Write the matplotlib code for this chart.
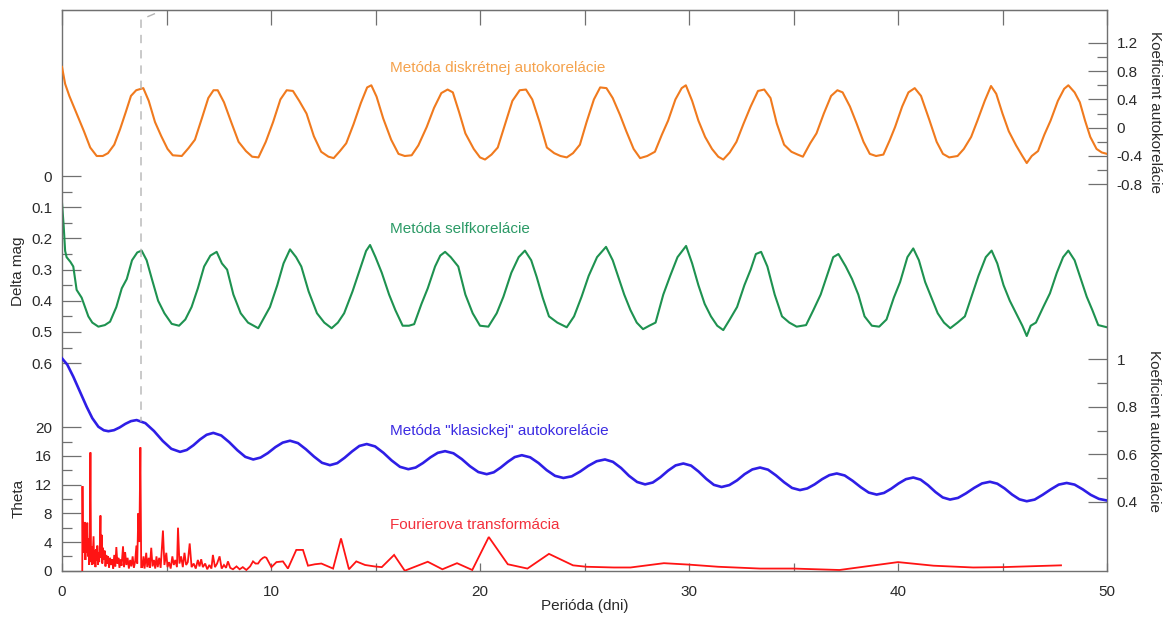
import numpy as np
import matplotlib
matplotlib.use("Agg")
import matplotlib.pyplot as plt
from matplotlib.ticker import FixedLocator, MultipleLocator, FuncFormatter

# ---------------------------------------------------------------- data
# Discrete autocorrelation (right axis, top)
orange_lag = [0.0, 0.15, 0.35, 0.7, 1.05, 1.35, 1.66, 1.95, 2.2, 2.5,
              2.78, 3.05, 3.3, 3.55, 3.89, 4.15, 4.45, 4.75, 5.05, 5.3,
              5.73, 6.05, 6.36, 6.7, 7.0, 7.25, 7.45, 7.75, 8.12, 8.45,
              8.8, 9.1, 9.4, 9.75, 10.1, 10.45, 10.75, 11.05, 11.35, 11.7,
              12.05, 12.4, 12.75, 13.0, 13.3, 13.6, 13.95, 14.3, 14.6, 14.8,
              15.05, 15.37, 15.75, 16.1, 16.4, 16.73, 17.05, 17.45, 17.8, 18.15,
              18.45, 18.7, 19.0, 19.3, 19.7, 20.0, 20.24, 20.55, 20.85, 21.2,
              21.55, 21.9, 22.2, 22.5, 22.85, 23.2, 23.55, 23.85, 24.15, 24.45,
              24.78, 25.1, 25.45, 25.75, 26.05, 26.35, 26.7, 27.0, 27.35, 27.66,
              28.0, 28.37, 28.7, 29.0, 29.35, 29.65, 29.85, 30.15, 30.45, 30.77,
              31.1, 31.4, 31.64, 31.95, 32.27, 32.6, 32.95, 33.3, 33.6, 33.9,
              34.2, 34.55, 34.9, 35.2, 35.45, 35.8, 36.1, 36.45, 36.8, 37.1,
              37.35, 37.7, 38.02, 38.35, 38.65, 38.95, 39.3, 39.6, 39.86, 40.2,
              40.5, 40.8, 41.1, 41.5, 41.85, 42.15, 42.45, 42.85, 43.15, 43.5,
              43.8, 44.15, 44.45, 44.7, 45.0, 45.3, 45.65, 45.95, 46.16, 46.4,
              46.7, 47.0, 47.3, 47.65, 47.95, 48.15, 48.45, 48.7, 48.95, 49.2,
              49.5, 49.75, 50.0]
orange_coef = [0.86, 0.62, 0.45, 0.20, -0.05, -0.28, -0.40, -0.40, -0.36, -0.24,
               -0.02, 0.22, 0.45, 0.53, 0.56, 0.38, 0.08, -0.12, -0.30, -0.39,
               -0.40, -0.29, -0.17, 0.14, 0.42, 0.53, 0.53, 0.36, 0.06, -0.20,
               -0.33, -0.41, -0.42, -0.20, 0.08, 0.40, 0.53, 0.52, 0.38, 0.20,
               -0.12, -0.34, -0.41, -0.43, -0.33, -0.22, 0.05, 0.35, 0.57, 0.60,
               0.44, 0.13, -0.17, -0.37, -0.40, -0.39, -0.25, 0.01, 0.28, 0.49,
               0.54, 0.50, 0.22, -0.08, -0.30, -0.42, -0.45, -0.38, -0.28, 0.05,
               0.38, 0.53, 0.54, 0.40, 0.08, -0.28, -0.36, -0.40, -0.42, -0.36,
               -0.24, 0.08, 0.40, 0.57, 0.56, 0.42, 0.18, -0.05, -0.30, -0.43,
               -0.40, -0.34, -0.10, 0.10, 0.40, 0.56, 0.60, 0.38, 0.10, -0.13,
               -0.30, -0.41, -0.45, -0.35, -0.20, 0.05, 0.30, 0.52, 0.54, 0.42,
               0.06, -0.24, -0.34, -0.38, -0.41, -0.22, -0.08, 0.20, 0.45, 0.53,
               0.50, 0.30, 0.06, -0.20, -0.37, -0.40, -0.38, -0.18, 0.01, 0.30,
               0.50, 0.56, 0.45, 0.11, -0.20, -0.37, -0.42, -0.40, -0.30, -0.13,
               0.10, 0.38, 0.59, 0.48, 0.20, -0.05, -0.25, -0.40, -0.50, -0.40,
               -0.33, -0.10, 0.10, 0.38, 0.55, 0.60, 0.50, 0.36, 0.10, -0.13,
               -0.30, -0.35, -0.37]

# Self-correlation (left axis, Delta mag, inverted)
green_lag = [0.0, 0.08, 0.15, 0.22, 0.4, 0.54, 0.70, 0.94, 1.1, 1.26,
             1.45, 1.74, 2.05, 2.3, 2.6, 2.86, 3.1, 3.35, 3.6, 3.81,
             4.05, 4.3, 4.6, 4.9, 5.25, 5.6, 5.9, 6.2, 6.5, 6.8,
             7.1, 7.4, 7.65, 7.9, 8.2, 8.55, 8.9, 9.39, 9.7, 9.95,
             10.3, 10.6, 10.91, 11.2, 11.45, 11.8, 12.2, 12.55, 12.9, 13.2,
             13.5, 13.9, 14.25, 14.55, 14.74, 15.0, 15.3, 15.65, 15.95, 16.3,
             16.6, 16.85, 17.2, 17.5, 17.85, 18.1, 18.33, 18.6, 18.96, 19.3,
             19.65, 20.0, 20.4, 20.8, 21.12, 21.5, 21.85, 22.15, 22.45, 22.71,
             23.0, 23.3, 23.7, 24.15, 24.5, 24.86, 25.2, 25.6, 26.03, 26.35,
             26.6, 26.9, 27.2, 27.5, 27.8, 28.1, 28.4, 28.77, 29.1, 29.45,
             29.86, 30.15, 30.45, 30.75, 31.05, 31.35, 31.64, 31.95, 32.3, 32.65,
             32.95, 33.2, 33.45, 33.75, 34.1, 34.45, 34.8, 35.15, 35.6, 35.95,
             36.3, 36.65, 36.9, 37.15, 37.5, 37.8, 38.1, 38.4, 38.75, 39.1,
             39.45, 39.8, 40.1, 40.45, 40.73, 41.0, 41.3, 41.6, 41.9, 42.2,
             42.5, 42.85, 43.2, 43.55, 43.85, 44.2, 44.48, 44.75, 45.05, 45.35,
             45.65, 45.95, 46.16, 46.35, 46.6, 46.95, 47.27, 47.6, 47.9, 48.15,
             48.45, 48.75, 49.03, 49.3, 49.58, 50.0]
green_mag = [0.085, 0.16, 0.24, 0.26, 0.275, 0.29, 0.365, 0.39, 0.42, 0.45,
             0.47, 0.483, 0.478, 0.467, 0.42, 0.36, 0.33, 0.27, 0.245, 0.239,
             0.27, 0.33, 0.40, 0.44, 0.474, 0.48, 0.46, 0.42, 0.36, 0.29,
             0.255, 0.243, 0.28, 0.30, 0.38, 0.44, 0.47, 0.488, 0.45, 0.42,
             0.35, 0.28, 0.235, 0.26, 0.29, 0.37, 0.44, 0.47, 0.488, 0.47,
             0.44, 0.37, 0.30, 0.24, 0.221, 0.26, 0.31, 0.38, 0.43, 0.48,
             0.48, 0.475, 0.41, 0.36, 0.29, 0.255, 0.243, 0.26, 0.29, 0.38,
             0.44, 0.48, 0.483, 0.44, 0.387, 0.31, 0.26, 0.239, 0.27, 0.323,
             0.39, 0.45, 0.47, 0.485, 0.45, 0.387, 0.32, 0.26, 0.227, 0.27,
             0.32, 0.38, 0.43, 0.47, 0.491, 0.48, 0.47, 0.38, 0.32, 0.26,
             0.224, 0.28, 0.35, 0.41, 0.45, 0.48, 0.494, 0.46, 0.42, 0.35,
             0.30, 0.25, 0.243, 0.29, 0.38, 0.45, 0.47, 0.483, 0.478, 0.43,
             0.38, 0.31, 0.26, 0.25, 0.29, 0.33, 0.38, 0.45, 0.48, 0.483,
             0.46, 0.39, 0.34, 0.26, 0.232, 0.27, 0.34, 0.39, 0.44, 0.47,
             0.488, 0.47, 0.45, 0.38, 0.32, 0.26, 0.239, 0.28, 0.35, 0.40,
             0.44, 0.48, 0.513, 0.48, 0.47, 0.42, 0.376, 0.31, 0.26, 0.239,
             0.27, 0.33, 0.387, 0.43, 0.478, 0.485]

# "Classic" autocorrelation (right axis, bottom)
blue_lag = [0.0, 0.25, 0.54, 0.85, 1.18, 1.45, 1.74, 2.0, 2.22,
            2.49, 2.76, 3.03, 3.30, 3.57,
            3.99, 4.40, 4.82, 5.23, 5.65,
            5.97, 6.29, 6.60, 6.92, 7.24,
            7.62, 8.00, 8.39, 8.77, 9.15,
            9.50, 9.85, 10.21, 10.56, 10.91,
            11.29, 11.67, 12.06, 12.44, 12.82,
            13.17, 13.52, 13.88, 14.23, 14.58,
            14.98, 15.38, 15.77, 16.17, 16.57,
            16.92, 17.27, 17.63, 17.98, 18.33,
            18.73, 19.13, 19.52, 19.92, 20.32,
            20.66, 20.99, 21.33, 21.66, 22.0,
            22.40, 22.80, 23.19, 23.59, 23.99,
            24.39, 24.79, 25.18, 25.58, 25.98,
            26.36, 26.75, 27.13, 27.52, 27.9,
            28.27, 28.63, 29.00, 29.36, 29.73,
            30.10, 30.46, 30.83, 31.19, 31.56,
            31.93, 32.30, 32.66, 33.03, 33.4,
            33.78, 34.16, 34.55, 34.93, 35.31,
            35.66, 36.01, 36.37, 36.72, 37.07,
            37.45, 37.83, 38.22, 38.60, 38.98,
            39.33, 39.68, 40.03, 40.38, 40.73,
            41.08, 41.43, 41.79, 42.14, 42.49,
            42.87, 43.25, 43.64, 44.02, 44.4,
            44.75, 45.10, 45.46, 45.81, 46.16,
            46.54, 46.92, 47.31, 47.69, 48.07,
            48.45, 48.84, 49.22, 49.61, 50.0]
blue_coef = [1.004, 0.978, 0.927, 0.865, 0.80, 0.752, 0.716, 0.701, 0.697,
             0.7015, 0.713, 0.728, 0.7395, 0.744,
             0.731, 0.698, 0.656, 0.623, 0.61,
             0.618, 0.638, 0.662, 0.682, 0.69,
             0.679, 0.651, 0.617, 0.589, 0.578,
             0.586, 0.605, 0.630, 0.649, 0.657,
             0.647, 0.621, 0.590, 0.564, 0.554,
             0.5625, 0.585, 0.612, 0.635, 0.643,
             0.633, 0.606, 0.574, 0.547, 0.537,
             0.544, 0.563, 0.587, 0.606, 0.613,
             0.604, 0.5795, 0.5495, 0.525, 0.516,
             0.524, 0.544, 0.568, 0.588, 0.596,
             0.587, 0.563, 0.533, 0.509, 0.50,
             0.507, 0.527, 0.551, 0.5705, 0.578,
             0.568, 0.542, 0.509, 0.483, 0.473,
             0.481, 0.503, 0.531, 0.553, 0.561,
             0.552, 0.527, 0.496, 0.471, 0.462,
             0.470, 0.490, 0.516, 0.536, 0.544,
             0.535, 0.511, 0.482, 0.458, 0.449,
             0.456, 0.473, 0.495, 0.512, 0.519,
             0.5105, 0.488, 0.461, 0.4385, 0.43,
             0.437, 0.455, 0.477, 0.495, 0.502,
             0.493, 0.470, 0.441, 0.418, 0.409,
             0.416, 0.435, 0.458, 0.477, 0.484,
             0.476, 0.456, 0.430, 0.410, 0.402,
             0.409, 0.429, 0.452, 0.472, 0.479,
             0.472, 0.452, 0.429, 0.412, 0.405]

# Fourier transform (left axis, Theta)
fourier_period = [0.97, 0.98, 1.00, 1.03, 1.06, 1.09, 1.12, 1.15, 1.18, 1.21,
                  1.24, 1.27, 1.30, 1.33, 1.36, 1.39, 1.42, 1.45, 1.48, 1.51,
                  1.54, 1.57, 1.60, 1.63, 1.66, 1.69, 1.72, 1.75, 1.78, 1.81,
                  1.84, 1.87, 1.90, 1.93, 1.96, 2.00, 2.04, 2.08, 2.12, 2.16,
                  2.20, 2.25, 2.30, 2.35, 2.40, 2.45, 2.50, 2.55, 2.60, 2.65,
                  2.70, 2.75, 2.80, 2.85, 2.92, 2.97, 3.02, 3.08, 3.14, 3.20,
                  3.26, 3.32, 3.38, 3.44, 3.50, 3.56, 3.60, 3.65, 3.70, 3.75,
                  3.79, 3.84, 3.90, 3.95, 4.03, 4.08, 4.15, 4.20, 4.27, 4.33,
                  4.40, 4.46, 4.52, 4.58, 4.65, 4.72, 4.83, 4.90, 4.99, 5.05,
                  5.12, 5.20, 5.28, 5.35, 5.42, 5.50, 5.55, 5.62, 5.70, 5.78,
                  5.86, 5.94, 6.02, 6.11, 6.20, 6.30, 6.40, 6.50, 6.58, 6.66,
                  6.74, 6.85, 6.95, 7.05, 7.15, 7.22, 7.32, 7.42, 7.54, 7.64,
                  7.75, 7.85, 7.94, 8.05, 8.18, 8.35, 8.50, 8.65, 8.82, 9.00,
                  9.14, 9.26, 9.38, 9.50, 9.62, 9.70, 9.78, 10.02, 10.26, 10.57,
                  10.81, 11.21, 11.53, 11.77, 12.10, 12.41, 12.97, 13.35, 13.73, 14.08,
                  14.50, 14.95, 15.30, 15.89, 16.40, 17.50, 18.20, 18.90, 19.63, 20.42,
                  21.33, 22.27, 23.30, 24.45, 25.10, 26.40, 27.20, 28.80, 30.00, 31.40,
                  33.40, 35.00, 37.20, 40.00, 41.70, 43.60, 45.00, 47.80]
fourier_theta = [0.0, 11.8, 3.5, 6.2, 2.5, 6.8, 1.5, 5.5, 2.5, 6.7,
                 2.0, 4.5, 0.8, 3.6, 16.5, 1.2, 3.4, 0.8, 2.8, 4.8,
                 1.0, 2.8, 0.5, 3.0, 1.4, 3.5, 0.8, 2.6, 1.2, 3.5,
                 7.7, 1.8, 5.0, 1.0, 3.2, 1.5, 2.8, 0.6, 2.2, 1.0,
                 2.0, 0.4, 1.8, 0.8, 1.6, 0.3, 2.2, 0.6, 3.3, 1.0,
                 1.8, 0.4, 1.6, 0.7, 3.4, 0.5, 2.6, 0.8, 1.8, 0.3,
                 1.5, 0.6, 2.0, 0.4, 1.3, 3.5, 1.0, 8.0, 4.0, 17.2,
                 0.5, 0.5, 2.0, 0.3, 2.5, 0.5, 1.8, 0.4, 3.2, 0.6,
                 1.5, 0.3, 2.0, 0.5, 1.8, 0.4, 5.6, 0.8, 2.5, 0.5,
                 1.2, 0.3, 2.0, 0.8, 1.5, 0.5, 6.0, 1.0, 2.0, 0.5,
                 2.5, 0.8, 1.2, 3.8, 0.5, 1.0, 0.3, 1.5, 0.6, 1.6,
                 0.5, 1.0, 0.2, 0.8, 0.3, 2.2, 0.5, 1.0, 2.0, 0.3,
                 0.8, 0.4, 1.3, 0.4, 0.2, 0.6, 0.2, 0.5, 0.1, 0.6,
                 1.3, 1.0, 1.0, 1.5, 1.8, 1.9, 1.8, 0.5, 1.2, 1.3,
                 0.3, 2.9, 2.9, 0.7, 0.9, 1.0, 0.3, 4.5, 0.2, 1.3,
                 0.8, 0.6, 0.5, 2.2, 0.0, 1.25, 0.2, 1.05, 0.1, 4.7,
                 0.9, 0.3, 2.35, 0.75, 0.55, 0.45, 0.45, 1.05, 0.85, 0.55,
                 0.3, 0.3, 0.1, 1.2, 0.7, 0.45, 0.5, 0.75]

# Period marked by the dashed guide line
marked_period = 3.78

delta_mag_ticks = [0, 0.1, 0.2, 0.3, 0.4, 0.5, 0.6]
theta_ticks = [0, 4, 8, 12, 16, 20]
coef_top_ticks = [-0.8, -0.4, 0, 0.4, 0.8, 1.2]
coef_bottom_ticks = [0.4, 0.6, 0.8, 1.0]
period_ticks = [0, 10, 20, 30, 40, 50]

# ---------------------------------------------------------------- style
plt.rcParams['font.family'] = ['Liberation Sans', 'DejaVu Sans']
plt.rcParams['font.size'] = 11
plt.rcParams['axes.unicode_minus'] = False

FRAME = '#707070'
TXT = '#2a2a2a'
C_ORANGE = '#F07A1E'
C_GREEN = '#1E9250'
C_BLUE = '#2E1EE6'
C_RED = '#FF1414'

W, H = 1174, 618
fig = plt.figure(figsize=(W / 100, H / 100), dpi=100)
fig.patch.set_facecolor('white')

px_left, px_right, px_bottom, px_top = 62, 1107, 571, 10
ax = fig.add_axes([px_left / W, 1 - px_bottom / H,
                   (px_right - px_left) / W, (px_bottom - px_top) / H])

fmt = FuncFormatter(lambda v, _: f"{v:g}")


def style_y(a, side, major, minor):
    a.yaxis.set_major_locator(FixedLocator(major))
    a.yaxis.set_minor_locator(FixedLocator(minor))
    a.yaxis.set_major_formatter(fmt)
    if side == 'left':
        a.yaxis.tick_left()
    else:
        a.yaxis.tick_right()
    a.tick_params(axis='y', which='major', direction='in', length=14,
                  width=0.9, color=FRAME, labelcolor=TXT, labelsize=11, pad=7)
    a.tick_params(axis='y', which='minor', direction='in', length=7,
                  width=0.9, color=FRAME)


# Main axes: self-correlation, Delta mag (inverted)
ax.set_xlim(0, 50)
ax.set_ylim(1.267, -0.533)
style_y(ax, 'left', delta_mag_ticks,
        [0.05, 0.15, 0.25, 0.35, 0.45, 0.55])
ax.xaxis.set_major_locator(FixedLocator(period_ticks))
ax.xaxis.set_minor_locator(MultipleLocator(5))
ax.tick_params(axis='x', which='both', direction='in', length=6, width=0.9,
               color=FRAME, labelcolor=TXT, labelsize=11, pad=10)
for s in ax.spines.values():
    s.set_color(FRAME)
    s.set_linewidth(1.0)

top = ax.secondary_xaxis('top')
top.set_xticks(np.arange(0, 51, 5))
top.tick_params(direction='in', length=11, width=0.9, color=FRAME,
                labeltop=False)
top.spines['top'].set_color(FRAME)

# Fourier transform axes (Theta, left)
ax_r = ax.twinx()
ax_r.set_ylim(-0.04, 78.2)
style_y(ax_r, 'left', theta_ticks, [2, 6, 10, 14, 18])

# Discrete autocorrelation axes (right, top)
ax_o = ax.twinx()
ax_o.set_ylim(-6.27, 1.665)
style_y(ax_o, 'right', coef_top_ticks, [-0.6, -0.2, 0.2, 0.6, 1.0])

# Classic autocorrelation axes (right, bottom)
ax_b = ax.twinx()
ax_b.set_ylim(0.108, 2.472)
style_y(ax_b, 'right', coef_bottom_ticks, [0.5, 0.7, 0.9])

for a in (ax_r, ax_o, ax_b):
    for s in a.spines.values():
        s.set_visible(False)

# ---------------------------------------------------------------- curves
ax_r.plot(fourier_period, fourier_theta, color=C_RED, lw=1.3,
          solid_joinstyle='miter')
ax_b.plot(blue_lag, blue_coef, color=C_BLUE, lw=1.9, solid_joinstyle='round')
ax.plot(green_lag, green_mag, color=C_GREEN, lw=1.5, solid_joinstyle='round')
ax_o.plot(orange_lag, orange_coef, color=C_ORANGE, lw=1.5,
          solid_joinstyle='round')

# Dashed guide at the detected period, from the classic autocorrelation peak up
guide_bottom = float(np.interp(marked_period, blue_lag, blue_coef))
ax_b.plot([4.45, marked_period, marked_period], [2.457, 2.432, guide_bottom],
          color='#b4b4b4', lw=1.0, ls=(0, (6, 5)))

# ---------------------------------------------------------------- labels
lab_x = 15.7
ax_o.text(lab_x, 0.845, "Metóda diskrétnej autokorelácie", color='#F5A24C',
          fontsize=11, va='center', ha='left')
ax.text(lab_x, 0.17, "Metóda selfkorelácie", color='#2B9A66',
        fontsize=11, va='center', ha='left')
ax_b.text(lab_x, 0.699, 'Metóda "klasickej" autokorelácie', color='#3B2BE2',
          fontsize=11, va='center', ha='left')
ax_r.text(lab_x, 6.4, "Fourierova transformácia", color='#F2303C',
          fontsize=11, va='center', ha='left')

fig.text(18 / W, 1 - 271 / H, "Delta mag", rotation=90, ha='center',
         va='center', color=TXT, fontsize=11)
fig.text(19 / W, 1 - 498 / H, "Theta", rotation=90, ha='center',
         va='center', color=TXT, fontsize=11)
fig.text(1155 / W, 1 - 112 / H, "Koeficient autokorelácie", rotation=-90,
         ha='center', va='center', color=TXT, fontsize=11)
fig.text(1154 / W, 1 - 431 / H, "Koeficient autokorelácie", rotation=-90,
         ha='center', va='center', color=TXT, fontsize=11)
fig.text(584.5 / W, 1 - 606 / H, "Perióda (dni)", ha='center', va='center',
         color=TXT, fontsize=11)

fig.savefig("out.png", dpi=100, facecolor='white')
